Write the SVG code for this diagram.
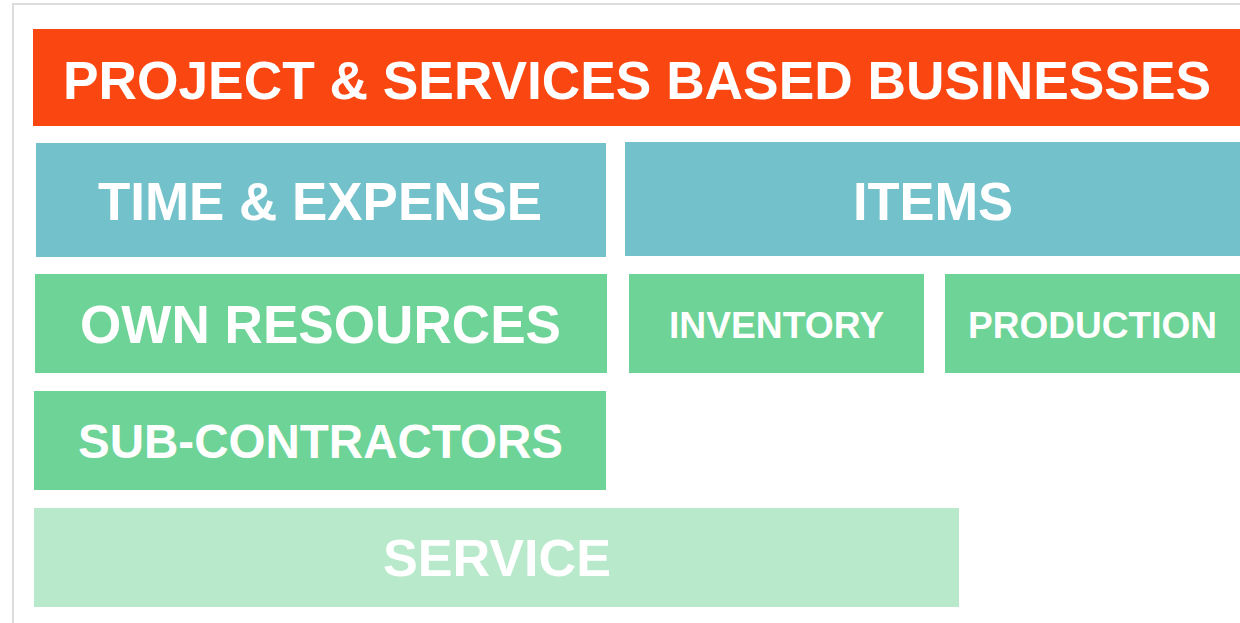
<svg xmlns="http://www.w3.org/2000/svg" width="1240" height="623" viewBox="0 0 1240 623">
<style>
text{font-family:"Liberation Sans",Arial,sans-serif;font-weight:bold;fill:#FFFFFF;text-anchor:middle}
.orange{fill:#FA4711}
.teal{fill:#73C2CB}
.green{fill:#6DD396}
.light{fill:#B8E9CB}
</style>
<rect x="0" y="0" width="1240" height="623" fill="#FFFFFF"/>
<rect x="13" y="4" width="1300" height="700" fill="none" stroke="#DDDDDD" stroke-width="2"/>
<g id="connectors"></g>
<g id="node-title"><rect class="orange" x="33" y="29" width="1207" height="97"/><text x="637" y="99" font-size="53.3" textLength="1148" lengthAdjust="spacingAndGlyphs">PROJECT &amp; SERVICES BASED BUSINESSES</text></g>
<g id="node-time-expense"><rect class="teal" x="36" y="143" width="570" height="114"/><text x="320" y="220" font-size="53" textLength="444" lengthAdjust="spacingAndGlyphs">TIME &amp; EXPENSE</text></g>
<g id="node-items"><rect class="teal" x="625" y="142" width="615" height="114"/><text x="933" y="220" font-size="53" textLength="160" lengthAdjust="spacingAndGlyphs">ITEMS</text></g>
<g id="node-own-resources"><rect class="green" x="35" y="274" width="572" height="99"/><text x="320.5" y="343" font-size="53" textLength="481" lengthAdjust="spacingAndGlyphs">OWN RESOURCES</text></g>
<g id="node-inventory"><rect class="green" x="629" y="274" width="295" height="99"/><text x="776.5" y="338" font-size="37" textLength="215" lengthAdjust="spacingAndGlyphs">INVENTORY</text></g>
<g id="node-production"><rect class="green" x="945" y="274" width="295" height="99"/><text x="1092.5" y="338" font-size="37" textLength="249" lengthAdjust="spacingAndGlyphs">PRODUCTION</text></g>
<g id="node-sub-contractors"><rect class="green" x="34" y="391" width="572" height="99"/><text x="320.5" y="458" font-size="48" textLength="485" lengthAdjust="spacingAndGlyphs">SUB-CONTRACTORS</text></g>
<g id="node-service"><rect class="light" x="34" y="508" width="925" height="99"/><text x="497" y="576" font-size="52" textLength="228" lengthAdjust="spacingAndGlyphs">SERVICE</text></g>
</svg>
